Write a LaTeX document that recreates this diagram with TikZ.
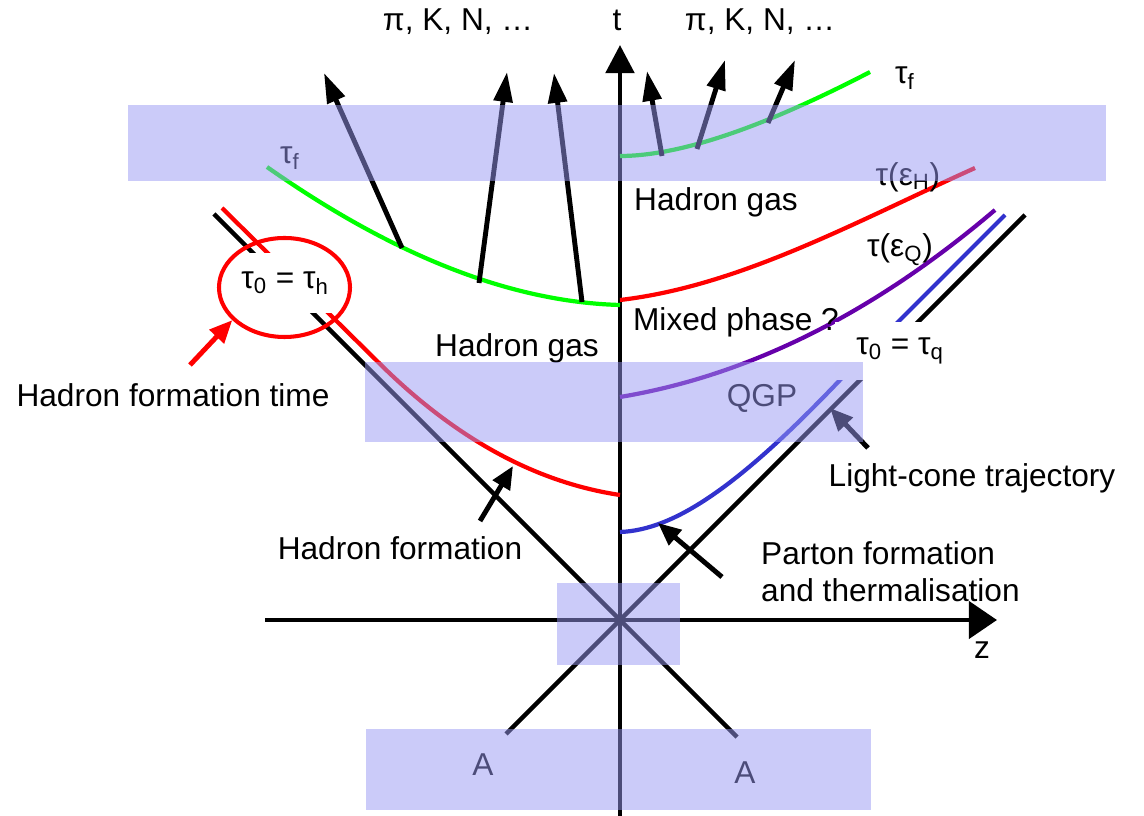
\documentclass[tikz,border=0pt]{standalone}
\usepackage{fontspec}
\setmainfont{Liberation Sans}
\usepackage{tikz}
\usetikzlibrary{shapes.geometric,arrows.meta,positioning}

\begin{document}
\begin{tikzpicture}[x=2cm, y=-2cm, font=\fontsize{18}{21}\selectfont]

        \definecolor{bandblue}{RGB}{152, 152, 243}
        \definecolor{qgpviolet}{RGB}{102, 0, 170}
        \definecolor{partonblue}{RGB}{50, 50, 205}
        \tikzset{
            band/.style={fill=bandblue, fill opacity=0.5},
            cone/.style={line width=2.5pt, draw=black},
            surface/.style={line width=2.4pt},
            taxis/.style={line width=2.8pt, -{Triangle[length=16pt, width=16pt]}},
            zaxis/.style={line width=2.8pt, -{Triangle[length=16pt, width=21pt]}},
            emit/.style={line width=2.8pt, -{Triangle[length=17pt, width=10.5pt]}},
            pointer/.style={line width=2.8pt, -{Triangle[length=13pt, width=11pt]}},
            cut/.style={fill=white, inner sep=0pt}
        }

        \useasboundingbox (0, 0) rectangle (11.44, 8.16);


        \coordinate (O) at (6.2, 6.2);
        \coordinate (coneL) at (2.14, 2.14);
        \coordinate (coneLend) at (7.37, 7.37);
        \coordinate (coneR) at (5.06, 7.34);
        \coordinate (coneRend) at (10.25, 2.15);
        \coordinate (tbot) at (6.2, 8.16);
        \coordinate (ttop) at (6.2, 0.45);
        \coordinate (zleft) at (2.65, 6.2);
        \coordinate (zright) at (9.97, 6.2);


        \draw[cone] (coneL) -- (O) -- (coneLend);
        \draw[cone] (coneR) -- (O) -- (coneRend);
        \draw[taxis] (tbot) -- (ttop);
        \draw[zaxis] (zleft) -- (zright);


        % proper-time surfaces
        \draw[surface, green] (2.67, 1.67) .. controls (3.94, 2.56) and (5.11, 3.02) .. (6.2, 3.05);
        \draw[surface, green] (6.2, 1.56) .. controls (6.79, 1.56) and (7.62, 1.28) .. (8.70, 0.72);
        \draw[surface, red] (6.2, 3.00) .. controls (7.40, 2.86) and (8.55, 2.22) .. (9.75, 1.68);
        \draw[surface, qgpviolet] (6.2, 3.97) .. controls (7.70, 3.72) and (8.95, 2.95) .. (9.95, 2.10);
        \draw[surface, partonblue] (6.2, 5.32) .. controls (6.75, 5.30) and (7.40, 4.85) .. (8.40, 3.80) -- (10.05, 2.15);
        \draw[surface, red] (2.22, 2.08) -- (3.77, 3.61) .. controls (4.535, 4.375) and (5.345, 4.822) .. (6.2, 4.95);


        % emitted hadrons
        \coordinate (e1) at (4.02, 2.48);
        \coordinate (e2) at (4.79, 2.83);
        \coordinate (e3) at (5.82, 3.02);
        \coordinate (e4) at (6.62, 1.56);
        \coordinate (e5) at (6.97, 1.49);
        \coordinate (e6) at (7.68, 1.23);
        \coordinate (f1) at (3.24, 0.73);
        \coordinate (f2) at (5.07, 0.72);
        \coordinate (f3) at (5.54, 0.73);
        \coordinate (f4) at (6.47, 0.71);
        \coordinate (f5) at (7.25, 0.60);
        \coordinate (f6) at (7.95, 0.60);
        \draw[emit] (e1) -- (f1);
        \draw[emit] (e2) -- (f2);
        \draw[emit] (e3) -- (f3);
        \draw[emit] (e4) -- (f4);
        \draw[emit] (e5) -- (f5);
        \draw[emit] (e6) -- (f6);


        \node[cut, minimum width=2.6cm, minimum height=1.16cm] (tauq) at (9.00, 3.51) {τ\textsubscript{0} = τ\textsubscript{q}};
        \node[cut, minimum width=2.0cm, minimum height=1.2cm] (tauh) at (2.85, 2.83) {τ\textsubscript{0} = τ\textsubscript{h}};
        \node[ellipse, draw=red, line width=2.3pt, minimum width=2.62cm, minimum height=1.98cm] (ring) at (2.845, 2.875) {};


        \node (tlab) at (6.17, 0.20) {t};
        \node (zlab) at (9.82, 6.50) {z};
        \node (pileft) at (4.58, 0.22) {π, K, N, …};
        \node (piright) at (7.60, 0.22) {π, K, N, …};
        \node (taufR) at (9.05, 0.78) {τ\textsubscript{f}};
        \node (taufL) at (2.90, 1.58) {τ\textsubscript{f}};
        \node (tauH) at (9.08, 1.77) {τ(ε\textsubscript{H})};
        \node (gasup) at (7.16, 2.02) {Hadron gas};
        \node (tauQ) at (9.00, 2.50) {τ(ε\textsubscript{Q})};
        \node (mixed) at (7.36, 3.22) {Mixed phase ?};
        \node (gaslow) at (5.17, 3.48) {Hadron gas};
        \node (qgp) at (7.62, 3.98) {QGP};
        \node (lct) at (9.72, 4.78) {Light-cone trajectory};
        \node (hft) at (1.73, 3.95) {Hadron formation time};
        \node (hf) at (4.00, 5.48) {Hadron formation};
        \node[anchor=west, align=left] (pft) at (7.55, 5.715) {Parton formation\\and thermalisation};
        \node (nucA) at (4.83, 7.65) {A};
        \node (nucB) at (7.45, 7.73) {A};


        \coordinate (hftail) at (1.90, 3.65);
        \coordinate (hfa) at (4.80, 5.21);
        \coordinate (hfb) at (5.13, 4.66);
        \coordinate (pfa) at (7.22, 5.77);
        \coordinate (pfb) at (6.58, 5.23);
        \coordinate (lca) at (8.68, 4.48);
        \coordinate (lcb) at (8.30, 4.08);
        \draw[pointer, red] (hftail) -- (ring.212);
        \draw[pointer] (hfa) -- (hfb);
        \draw[pointer] (pfa) -- (pfb);
        \draw[pointer] (lca) -- (lcb);


        % time slices
        \fill[band] (1.28, 1.05) rectangle (11.06, 1.81);
        \fill[band] (3.65, 3.62) rectangle (8.63, 4.42);
        \fill[band] (5.57, 5.83) rectangle (6.80, 6.65);
        \fill[band] (3.66, 7.29) rectangle (8.71, 8.10);

    \end{tikzpicture}
\end{document}
